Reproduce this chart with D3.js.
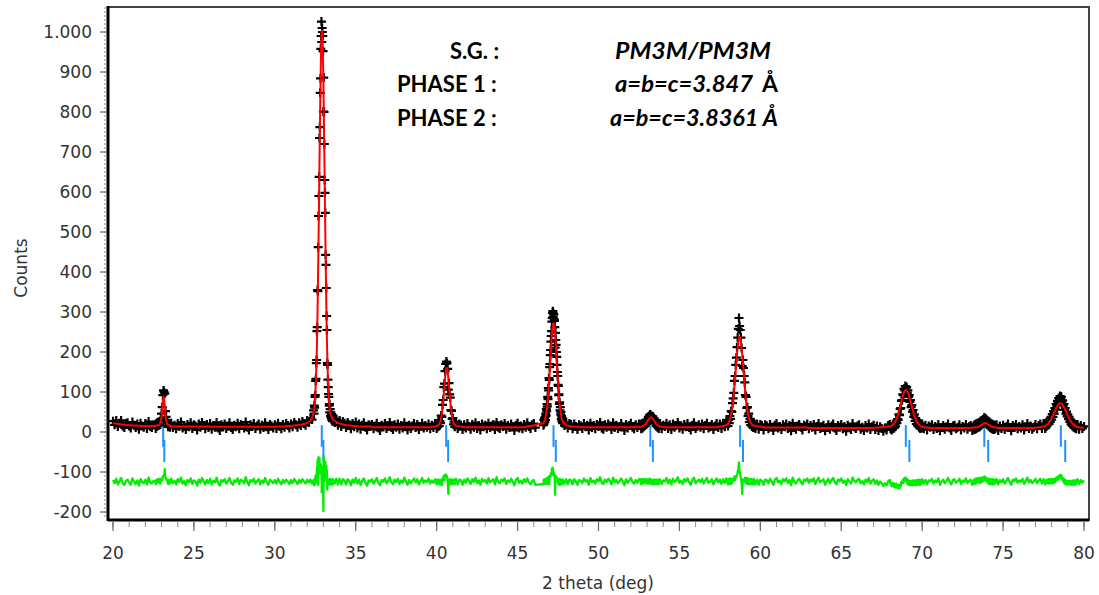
<!DOCTYPE html>
<html>
<head>
<meta charset="utf-8">
<script src="https://cdn.jsdelivr.net/npm/d3@7"></script>
<style>
  html, body { margin: 0; padding: 0; background: #fff; }
  svg { display: block; }
</style>
</head>
<body>
<svg id="chart" width="1099" height="595"></svg>
<script>
// ---------------------------------------------------------------
// Powder pattern (Cu K-alpha), two cubic Pm-3m phases.
// The scan is stored in blocks: coarse steps on the background,
// fine steps across the reflections. Each block is [start, step].
// ---------------------------------------------------------------
const scanSegments = [
  [20.0, 0.1], [22.6, 0.04], [23.6, 0.1], [32.4, 0.02], [33.6, 0.1],
  [40.0, 0.04], [41.2, 0.1], [46.6, 0.02], [47.8, 0.1], [52.6, 0.04],
  [53.8, 0.1], [58.0, 0.04], [59.6, 0.1], [68.0, 0.04], [70.0, 0.1],
  [73.2, 0.04], [74.6, 0.1], [77.6, 0.04], [79.6, 0.1]
];

// observed counts, one row per scan block
const observedCounts = [
  [27,18,29,14,22,29,15,11,21,23,15,10,25,17,11,20,7,22,15,12,21,9,26,14,11,18],
  [18,9,21,14,24,16,20,27,18,33,46,62,92,104,100,96,52,38,27,24,13,22,17,12,20],
  [22,11,17,8,21,14,25,10,16,6,19,13,23,9,18,15,5,20,12,24,16,8,19,11,
   21,7,16,12,24,10,4,18,14,20,9,15,23,11,6,17,13,22,8,19,16,10,25,12,5,18,14,21,9,15,20,7,17,11,23,13,6,19,15,10,
   18,9,22,14,8,19, 12,21,16,10,
   20,13,24,18,12,23,16,26,21,17,29,24,34,31],
  [54,46,66,61,88,92,128,133,172,180,252,262,355,352,462,540,590,638,735,762,
   848,884,958,990,1026,975,1010,1000,990,952,801,886,800,720,630,598,548,443,418,360,
   290,255,172,168,131,112,95,88,66,70,49,57,40,49,35,45,30,41,27,38],
  [38,24,33,17,29,14,26,22,11,24,19,8,21,13,25,
   10,20,7,17,23,12,5,18,15,
   19,8,15,22,10,4,17,13,21,9,14,24,11,6,18,12,20,7,16,10,23,13,5,17,9,15,21,11,19,6,14,22,10,16,12,
   20,8,17,11,21],
  [9,22,13,24,15,27,22,41,38,68,80,112,121,152,170,176,172,158,106,122,94,86,55,53,33,35,19,26,13,21],
  [24,9,20,17,6,
   18,10,21,14,7,19,12,23,9,16,5,20,13,17,8,22,11,15,19,6,24,12,9,18,14,21,7,16,11,20,13,4,17,22,10,15,8,19,12,23,14,9,18,
   21,11,23,14,24,19],
  [17,30,21,34,25,38,30,46,41,58,52,70,64,88,82,110,104,135,130,162,
   170,192,205,226,240,252,276,285,298,302,288,296,294,282,278,262,211,248,230,218,
   200,188,168,150,140,118,115,92,94,70,74,54,62,44,50,33,40,27,35,22],
  [31,16,24,10,21,19,8,20,14,6,18,15,
   9,21,13,17,5,22,11,16,8,19,14,24,10,7,18,12,20,15,6,23,11,17,9,14,21,13,4,19,10,16,22,12,
   8,18,11,20],
  [19,8,21,10,22,13,24,16,27,20,31,24,38,29,42,44,33,40,30,39,26,34,21,29,15,24,12,22,9,19],
  [21,8,17,
   14,22,9,18,6,20,12,16,24,10,15,7,19,13,21,11,5,17,23,9,14,18,12,20,8,16,22,10,13,19,6,15,21,11,
   20,9,22,13,26],
  [15,30,22,40,33,52,50,72,84,98,128,140,168,186,212,236,258,285,265,255,
   236,210,165,180,160,140,124,92,88,60,62,40,46,25,33,18,28,14,24,11],
  [24,9,20,7,19,16,5,18,
   15,8,19,12,4,17,21,10,14,6,18,13,20,9,16,3,22,11,7,15,19,12,5,17,14,20,
   8,16,12,19,5,14,21,9,13,17,3,11,18,7,15,20,10,4,16,12,19,8,14,2,17,11,6,21,13,9,15,18,7,12,4,16,10,20,6,13,
   17,6,15,4,13,9,2,10,5,16],
  [19,8,12,5,14,9,17,10,20,14,28,22,32,30,44,42,58,60,78,80,
   94,92,108,104,115,110,112,98,104,88,92,75,80,62,67,50,55,38,44,28,
   35,20,30,16,25,12,22,9,20,10],
  [20,8,17,5,15,
   12,18,6,14,9,19,3,11,16,7,13,20,10,4,15,17,8,12,18,5,14,10,19,7,13,
   16,4],
  [17,6,19,8,21,10,22,12,24,13,26,16,29,20,31,24,36,28,34,25,30,18,27,14,25,11,22,9,20,7,18,6,17,8,16],
  [18,4,
   15,9,17,6,13,20,11,3,16,12,19,8,14,10,18,5,13,21,9,15,7,12,
   19,8,16,20,9,21],
  [9,20,14,25,18,28,20,33,25,38,31,45,38,52,46,60,56,70,66,78,
   74,85,80,90,84,88,76,79,66,70,55,60,46,51,39,44,32,38,25,31,
   19,27,15,24,12,21,10,19,8,17],
  [19,7,16,9,14]
];

// calculated (refined) profile at the same angles
const calculatedCounts = [
  [22,21,21,20,20,19,19,18,18,17,17,17,16,16,16,16,16,15,15,15,15,15,15,15,15,15],
  [15,15,16,16,17,17,18,19,22,28,38,58,78,88,84,64,42,30,23,19,18,17,16,16,15],
  [14,14,14,14,14,14,14,14,14,14,14,14,14,14,14,14,14,14,14,14,14,14,14,14,
   13,13,13,13,13,13,13,13,13,13,13,13,13,13,13,13,13,13,13,13,13,13,13,13,13,13,13,13,13,13,13,13,13,13,13,13,13,13,13,13,
   13,13,14,14,14,14, 14,15,15,15,
   15,16,16,17,17,18,18,19,20,21,23,25,28,35],
  [49,54,60,69,80,95,112,132,157,181,216,256,300,359,419,478,538,607,675,741,
   805,859,914,957,988,1001,1003,991,963,924,874,820,756,691,627,558,498,434,379,320,
   270,226,191,162,137,117,100,83,72,63,55,50,46,43,41,39,37,35,34,33],
  [31,28,25,23,21,20,19,18,17,17,16,16,15,15,15,
   14,14,14,14,14,14,14,14,14,
   12,12,12,12,12,12,12,12,12,12,12,12,12,12,12,12,12,12,12,12,12,12,12,12,12,12,12,12,12,12,12,12,12,12,12,
   12,12,13,13,14],
  [15,16,16,18,20,23,28,36,46,59,76,96,116,135,151,159,160,152,136,117,98,79,61,48,37,29,24,20,18,17],
  [16,15,14,13,13,
   12,12,12,12,12,12,12,12,12,12,12,12,12,12,12,12,12,12,12,12,12,12,12,12,12,12,12,12,12,12,12,12,12,12,12,12,12,12,12,
   14,15,15,16,16,18],
  [22,24,25,27,29,32,35,39,45,50,55,60,69,77,86,98,108,121,136,147,
   159,176,190,204,219,232,243,254,262,268,271,272,271,268,262,254,243,232,219,204,
   190,176,159,147,136,121,108,98,86,77,69,60,55,50,45,39,35,32,29,27],
  [25,20,17,16,15,14,14,13,13,13,13,12,
   12,12,12,12,12,12,12,12,12,12,12,12,12,12,12,12,12,12,12,12,12,12,12,12,12,12,12,12,12,12,12,12,
   12,13,13,13],
  [13,13,13,14,15,16,17,18,20,23,25,28,31,33,35,36,37,36,35,33,31,28,25,23,20,18,17,16,15,14],
  [14,13,13,
   12,12,12,12,12,12,12,12,12,12,12,12,12,12,12,12,12,12,12,12,12,12,12,12,12,12,12,12,12,12,12,12,12,12,
   14,14,15,16,17],
  [21,23,27,31,38,45,53,64,78,95,114,135,154,174,195,211,226,236,238,236,
   226,211,195,174,154,135,114,95,78,64,53,45,38,31,27,23,21,19,18,17],
  [16,15,14,14,13,13,12,12,
   11,11,11,11,11,11,11,11,11,11,11,11,11,11,11,11,11,11,11,11,11,11,11,11,11,11,
   10,10,10,10,10,10,10,10,10,10,10,10,10,10,10,10,10,10,10,10,10,10,10,10,10,10,10,10,10,10,10,10,10,10,10,10,10,10,10,10,
   10,11,11,11,12,12,12,13,13,14],
  [14,14,15,16,17,19,20,22,25,28,32,36,40,45,51,58,64,70,77,82,
   89,95,99,102,104,105,104,102,99,95,89,82,77,70,64,58,51,45,40,36,
   32,28,25,22,20,19,17,16,15,14],
  [13,12,12,11,11,
   10,10,10,10,10,10,10,10,10,10,10,10,10,10,10,10,10,10,10,10,10,10,10,10,10,
   10,11],
  [11,11,11,12,12,12,13,13,14,15,16,17,18,19,20,21,22,22,22,22,21,20,19,18,17,16,15,14,13,13,12,12,11,11,11],
  [11,10,
   10,10,10,10,10,10,10,10,10,10,10,10,10,10,10,10,10,10,10,10,10,10,
   11,11,12,12,13,14],
  [15,16,17,19,20,21,24,26,28,31,35,38,41,45,48,52,55,59,62,65,
   68,70,71,72,72,71,70,68,65,62,59,55,52,48,45,41,38,35,31,28,
   26,24,21,20,19,17,16,15,14,13],
  [12,12,11,11,10]
];

// Bragg positions (2-theta) of the two phases
const phase1Reflections = [23.10, 32.90, 40.59, 47.22, 53.20, 58.75, 68.99, 73.84, 78.57];
const phase2Reflections = [23.17, 33.00, 40.71, 47.36, 53.36, 58.93, 69.21, 74.08, 78.84];

// baseline shift of the difference curve (obs - calc)
const differenceOffset = -125;

const yTickValues = [-200, -100, 0, 100, 200, 300, 400, 500, 600, 700, 800, 900, 1000];
const xTickValues = [20, 25, 30, 35, 40, 45, 50, 55, 60, 65, 70, 75, 80];

const infoLabels = ["S.G. :", "PHASE 1 :", "PHASE 2 :"];
const infoValues = ["PM3M/PM3M", "a=b=c=3.847", "a=b=c=3.8361 \u00C5"];

// ---------------------------------------------------------------
const svg = d3.select("#chart");
const frame = { left: 108, right: 1089, top: 7, bottom: 520 };

const x = d3.scaleLinear().domain([20, 80]).range([113, 1084]);
const y = d3.scaleLinear().domain([-200, 1000]).range([512, 32]);

// build the scan points
const points = [];
scanSegments.forEach(([start, step], s) => {
  const obs = observedCounts[s], calc = calculatedCounts[s];
  const n = Math.min(obs.length, calc.length);
  for (let i = 0; i < n; i++) {
    const angle = +(start + i * step).toFixed(3);
    points.push({ angle, obs: obs[i], calc: calc[i], diff: obs[i] - calc[i] + differenceOffset });
  }
});

svg.append("defs").append("clipPath").attr("id", "plotClip")
  .append("rect")
  .attr("x", frame.left).attr("y", frame.top)
  .attr("width", frame.right - frame.left).attr("height", frame.bottom - frame.top);

const plot = svg.append("g").attr("clip-path", "url(#plotClip)");

// Bragg reflection markers
const tickRows = [
  { data: phase1Reflections, top: 17, bottom: -37 },
  { data: phase2Reflections, top: -20, bottom: -75 }
];
tickRows.forEach(row => {
  plot.append("g").selectAll("line").data(row.data).join("line")
    .attr("x1", d => x(d)).attr("x2", d => x(d))
    .attr("y1", y(row.top)).attr("y2", y(row.bottom))
    .attr("stroke", "#1e90ff").attr("stroke-width", 2);
});

// difference curve
plot.append("path")
  .datum(points)
  .attr("fill", "none")
  .attr("stroke", "#00ee00")
  .attr("stroke-width", 2.3)
  .attr("stroke-linejoin", "round")
  .attr("d", d3.line().x(d => x(d.angle)).y(d => y(d.diff)));

// observed points as "+" markers
const half = 4.5;
let plusPath = "";
points.forEach(p => {
  const px = x(p.angle), py = y(p.obs);
  plusPath += `M${(px - half).toFixed(2)},${py.toFixed(2)}h${2 * half}M${px.toFixed(2)},${(py - half).toFixed(2)}v${2 * half}`;
});
plot.append("path")
  .attr("d", plusPath)
  .attr("fill", "none")
  .attr("stroke", "#000")
  .attr("stroke-width", 2.2);

// calculated profile
plot.append("path")
  .datum(points)
  .attr("fill", "none")
  .attr("stroke", "#ff0000")
  .attr("stroke-width", 2)
  .attr("stroke-linejoin", "round")
  .attr("d", d3.line().x(d => x(d.angle)).y(d => y(d.calc)));

// frame
svg.append("rect")
  .attr("x", frame.left).attr("y", frame.top)
  .attr("width", frame.right - frame.left).attr("height", frame.bottom - frame.top)
  .attr("fill", "none").attr("stroke", "#444").attr("stroke-width", 2);
svg.append("line")
  .attr("x1", frame.left).attr("x2", frame.left)
  .attr("y1", frame.top - 1).attr("y2", frame.bottom + 1)
  .attr("stroke", "#000").attr("stroke-width", 3);
svg.append("line")
  .attr("x1", frame.left).attr("x2", frame.right)
  .attr("y1", frame.bottom).attr("y2", frame.bottom)
  .attr("stroke", "#000").attr("stroke-width", 3);

// axes
const axisFont = "'DejaVu Sans', Verdana, sans-serif";
const countFormat = d3.formatLocale({ decimal: ",", thousands: ".", grouping: [3], currency: ["", ""], minus: "-" }).format(",d");

const yAxis = svg.append("g");
yAxis.selectAll("line.minor").data(d3.range(-210, 1061, 10)).join("line")
  .attr("class", "minor")
  .attr("x1", frame.left - 4).attr("x2", frame.left - 1)
  .attr("y1", d => y(d)).attr("y2", d => y(d))
  .attr("stroke", "#888").attr("stroke-width", 1);
yAxis.selectAll("line.major").data(yTickValues).join("line")
  .attr("class", "major")
  .attr("x1", frame.left - 8).attr("x2", frame.left - 1)
  .attr("y1", d => y(d)).attr("y2", d => y(d))
  .attr("stroke", "#666").attr("stroke-width", 1.2);
yAxis.selectAll("text").data(yTickValues).join("text")
  .attr("x", 92).attr("y", d => y(d) + 6)
  .attr("text-anchor", "end")
  .attr("font-family", axisFont).attr("font-size", 17).attr("fill", "#333")
  .text(d => countFormat(d));

const xAxis = svg.append("g");
xAxis.selectAll("line.minor").data(d3.range(20, 81, 1)).join("line")
  .attr("class", "minor")
  .attr("x1", d => x(d)).attr("x2", d => x(d))
  .attr("y1", frame.bottom + 2).attr("y2", frame.bottom + 7)
  .attr("stroke", "#888").attr("stroke-width", 1);
xAxis.selectAll("line.major").data(xTickValues).join("line")
  .attr("class", "major")
  .attr("x1", d => x(d)).attr("x2", d => x(d))
  .attr("y1", frame.bottom + 2).attr("y2", frame.bottom + 11)
  .attr("stroke", "#666").attr("stroke-width", 1.2);
xAxis.selectAll("text").data(xTickValues).join("text")
  .attr("x", d => x(d)).attr("y", 559)
  .attr("text-anchor", "middle")
  .attr("font-family", axisFont).attr("font-size", 17).attr("fill", "#333")
  .text(d => d);

svg.append("text")
  .attr("x", 598).attr("y", 589)
  .attr("text-anchor", "middle")
  .attr("font-family", axisFont).attr("font-size", 17).attr("fill", "#333")
  .text("2 theta (deg)");

svg.append("text")
  .attr("transform", "translate(27,268) rotate(-90)")
  .attr("text-anchor", "middle")
  .attr("font-family", axisFont).attr("font-size", 17).attr("fill", "#333")
  .text("Counts");

// structure information
const infoFont = "Lato, 'Open Sans', sans-serif";
const infoRows = [
  { lx: 450, vx: 615, by: 59, w: 156 },
  { lx: 397, vx: 615, by: 92, w: 138 },
  { lx: 397, vx: 610, by: 126, w: 168 }
];
const info = svg.append("g").attr("font-family", infoFont).attr("font-weight", "bold").attr("fill", "#000");
infoRows.forEach((r, i) => {
  info.append("text").attr("x", r.lx).attr("y", r.by).attr("font-size", 22).text(infoLabels[i]);
  const t = info.append("text").attr("x", r.vx).attr("y", r.by).attr("font-size", 23);
  t.append("tspan").attr("font-style", "italic")
    .attr("textLength", r.w).attr("lengthAdjust", "spacingAndGlyphs")
    .text(infoValues[i]);
  if (i === 1) t.append("tspan").attr("dx", 9).text("\u00C5");
});
</script>
</body>
</html>
